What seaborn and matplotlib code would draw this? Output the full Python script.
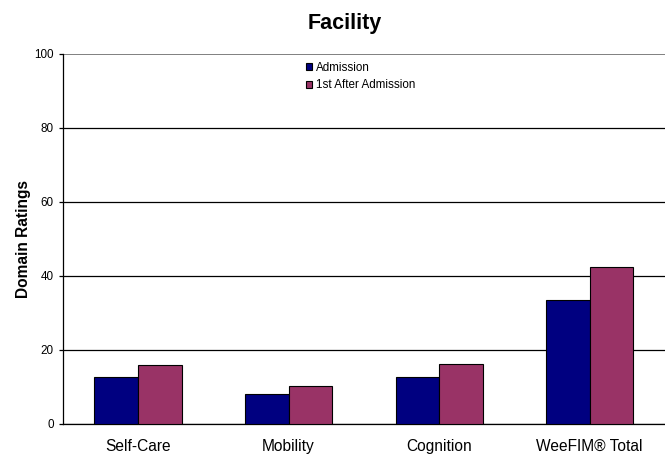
### Importando Bibliotecas
import pandas as pd
import matplotlib.pyplot as plt
import seaborn as sns

### Dados
dominios = ["Self-Care", "Mobility", "Cognition", "WeeFIM® Total"]
admissao = [12.8, 8.0, 12.8, 33.6]
pos_admissao = [15.9, 10.3, 16.2, 42.3]
series = ["Admission", "1st After Admission"]
cores = ["#000080", "#993366"]
yticks = [0, 20, 40, 60, 80, 100]

df = pd.DataFrame({
    "dominio": dominios * 2,
    "valor": admissao + pos_admissao,
    "serie": [series[0]] * len(dominios) + [series[1]] * len(dominios),
})

sns.set_style("white")
plt.rcParams["font.family"] = ["Liberation Sans", "DejaVu Sans"]
plt.rcParams["text.color"] = "black"
plt.rcParams["axes.labelcolor"] = "black"
plt.rcParams["xtick.color"] = "black"
plt.rcParams["ytick.color"] = "black"

fig = plt.figure(figsize=(6.65, 4.54), dpi=100)
ax = fig.add_axes([62.7 / 665, 30 / 454, (665 - 62.7) / 665, 370 / 454])

sns.barplot(data=df, x="dominio", y="valor", hue="serie", hue_order=series,
            palette=cores, width=0.578, gap=0, edgecolor="black", linewidth=0.8,
            saturation=1, ax=ax, zorder=3)

ax.set_ylim(0, 100)
ax.set_xlim(-0.5, 3.5)
ax.set_yticks(yticks)
ax.yaxis.grid(True, color="black", linewidth=0.9, zorder=0)
ax.get_ygridlines()[-1].set_color("#808080")
ax.get_ygridlines()[-1].set_linewidth(1.4)
ax.set_axisbelow(True)

for lado in ["top", "right"]:
    ax.spines[lado].set_visible(False)
ax.spines["left"].set_color("black")
ax.spines["bottom"].set_color("black")
ax.spines["left"].set_linewidth(0.9)
ax.spines["bottom"].set_linewidth(0.9)

ax.set_xticks(range(len(dominios)))
ax.set_xticklabels(dominios, fontsize=11.2)
ax.set_xticks([-0.5, 0.5, 1.5, 2.5], minor=True)
ax.tick_params(axis="x", which="major", length=0, pad=11)
ax.tick_params(axis="x", which="minor", length=3, width=0.9, color="black", direction="out")
ax.tick_params(axis="y", length=3, width=0.9, color="black", direction="out", left=True,
               labelsize=8.4, pad=3.6)

ax.set_xlabel("")
ax.set_ylabel("Domain Ratings", fontsize=11.2, weight="bold", labelpad=2)

ax.legend(loc="upper left", bbox_to_anchor=(306 / 665, 1 - 62 / 454), bbox_transform=fig.transFigure,
          frameon=False, fontsize=8.4, handlelength=0.55, handleheight=0.55, handletextpad=0.3,
          labelspacing=0.45, borderpad=0, borderaxespad=0)

fig.text(345 / 665, 1 - 23 / 454, "Facility", ha="center", va="center", fontsize=15.5, weight="bold")

plt.savefig("out.png", dpi=100)
